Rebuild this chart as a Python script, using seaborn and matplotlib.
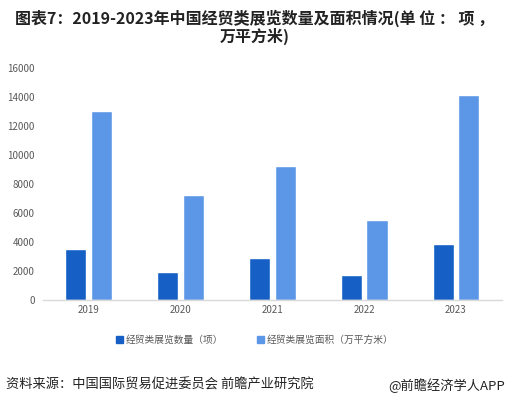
import numpy as np
import pandas as pd
import matplotlib
matplotlib.use("Agg")
import matplotlib.pyplot as plt
import seaborn as sns

years = ["2019", "2020", "2021", "2022", "2023"]
count_values = [3500, 1950, 2900, 1750, 3850]
area_values = [13000, 7200, 9200, 5500, 14100]
series_names = ["经贸类展览数量（项）", "经贸类展览面积（万平方米）"]
yticks = [0, 2000, 4000, 6000, 8000, 10000, 12000, 14000, 16000]

df = pd.DataFrame({
    "year": years * 2,
    "value": count_values + area_values,
    "series": [series_names[0]] * len(years) + [series_names[1]] * len(years),
})

sns.set_style("white")
plt.rcParams['font.family'] = ['Noto Sans CJK SC', 'DejaVu Sans']

fig = plt.figure(figsize=(5.1, 3.98), dpi=100)
ax = fig.add_axes([0.084, 0.246, 0.9, 0.584])

sns.barplot(data=df, x="year", y="value", hue="series", ax=ax,
            palette={series_names[0]: "#1660C5", series_names[1]: "#5B97E6"},
            width=0.56, gap=0.18, saturation=1, legend=False)

ax.set_ylim(0, 16000)
ax.set_xlim(-0.5, 4.5)
ax.set_yticks(yticks)
ax.set_yticklabels([str(t) for t in yticks])
ax.tick_params(axis="both", labelsize=7, colors="#595959", length=0)
ax.tick_params(axis="y", pad=6)
ax.set_xlabel("")
ax.set_ylabel("")
for side in ["top", "right", "left"]:
    ax.spines[side].set_visible(False)
ax.spines["bottom"].set_color("#D9D9D9")
ax.spines["bottom"].set_linewidth(1)

handles = [plt.Rectangle((0, 0), 1, 1, color=c) for c in ["#1660C5", "#5B97E6"]]
fig.legend(handles, series_names, loc="center", bbox_to_anchor=(0.5, 0.146), ncol=2,
           frameon=False, fontsize=7, labelcolor="#595959", handlelength=0.7,
           handleheight=0.7, handletextpad=0.3, columnspacing=3.5)

fig.text(0.5, 0.932, "图表7：2019-2023年中国经贸类展览数量及面积情况(单 位 ： 项 ，\n万平方米)",
         ha="center", va="center", fontsize=11.5, fontweight="bold", color="#222222",
         linespacing=1.05)

fig.text(0.012, 0.032, "资料来源：中国国际贸易促进委员会 前瞻产业研究院", ha="left", va="center",
         fontsize=9.5, color="#222222")
fig.text(0.99, 0.032, "@前瞻经济学人APP", ha="right", va="center",
         fontsize=9.5, color="#222222")

fig.savefig("out.png", dpi=100)
